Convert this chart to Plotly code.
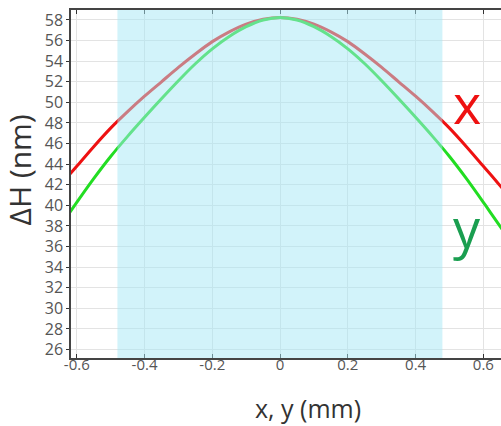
import plotly.graph_objects as go

# Data
pos = [-0.62, -0.6, -0.55, -0.5, -0.45, -0.4, -0.35, -0.3, -0.25, -0.2, -0.15, -0.1, -0.05, 0.0,
       0.05, 0.1, 0.15, 0.2, 0.25, 0.3, 0.35, 0.4, 0.45, 0.5, 0.55, 0.6, 0.62, 0.66]
dh_x = [43.05, 43.8, 45.7, 47.5, 49.1, 50.6, 52.0, 53.4, 54.7, 55.9, 56.85, 57.6, 58.08, 58.25,
        58.08, 57.6, 56.85, 55.9, 54.7, 53.4, 52.0, 50.6, 49.1, 47.5, 45.7, 43.8, 43.05, 41.5]
dh_y = [39.35, 40.3, 42.6, 44.75, 46.7, 48.55, 50.35, 52.1, 53.75, 55.2, 56.4, 57.35, 58.0, 58.25,
        58.0, 57.35, 56.4, 55.2, 53.75, 52.1, 50.35, 48.55, 46.7, 44.75, 42.6, 40.3, 39.35, 37.45]

x_tickvals = [-0.6, -0.4, -0.2, 0, 0.2, 0.4, 0.6]
x_ticktext = ["-0.6", "-0.4", "-0.2", "0", "0.2", "0.4", "0.6"]
y_tickvals = list(range(26, 59, 2))

band = [-0.48, 0.479]

FONT = "Open Sans"

fig = go.Figure()
fig.add_trace(go.Scatter(x=pos, y=dh_x, mode="lines", line=dict(color="#ee1111", width=3, shape="spline", smoothing=0.8),
                         showlegend=False, hoverinfo="skip"))
fig.add_trace(go.Scatter(x=pos, y=dh_y, mode="lines", line=dict(color="#22dd22", width=3, shape="spline", smoothing=0.8),
                         showlegend=False, hoverinfo="skip"))

fig.add_shape(type="rect", xref="x", yref="paper", x0=band[0], x1=band[1], y0=0, y1=1,
              fillcolor="rgba(165,232,245,0.5)", line=dict(width=0), layer="above")

fig.add_annotation(x=0.552, y=49.9, xref="x", yref="y", text="x", showarrow=False,
                   font=dict(family=FONT, size=54, color="#ee1111"))
fig.add_annotation(x=0.552, y=37.9, xref="x", yref="y", text="y", showarrow=False,
                   font=dict(family=FONT, size=54, color="#1a9e50"))

fig.add_annotation(x=-0.12, y=0.54, xref="paper", yref="paper", text="ΔH (nm)", showarrow=False,
                   xanchor="center", yanchor="middle",
                   textangle=-90, font=dict(family=FONT, size=30, color="#333"))
fig.add_annotation(x=0.551, y=-0.143, xref="paper", yref="paper", text="x, y (mm)", showarrow=False,
                   xanchor="center", yanchor="middle",
                   font=dict(family=FONT, size=25, color="#333"))

fig.update_xaxes(range=[-0.617, 0.652], tickvals=x_tickvals, ticktext=x_ticktext,
                 ticks="inside", ticklen=4, tickcolor="#333", showline=True, linecolor="#444", linewidth=1.5,
                 mirror="ticks", showgrid=True, gridcolor="#e3e3e3", gridwidth=1, zeroline=False,
                 ticklabelstandoff=-8,
                 tickfont=dict(family=FONT, size=15, color="#555"))
fig.update_yaxes(range=[25.18, 58.97], tickvals=y_tickvals,
                 ticks="outside", ticklen=3, tickcolor="#333", showline=True, linecolor="#444", linewidth=1.5,
                 showgrid=True, gridcolor="#e3e3e3", gridwidth=1, zeroline=False,
                 tickfont=dict(family=FONT, size=16, color="#555"))

fig.update_layout(width=501, height=426, margin=dict(l=71, r=0, t=10, b=68),
                  plot_bgcolor="white", paper_bgcolor="white")

fig.write_html("out.html")
